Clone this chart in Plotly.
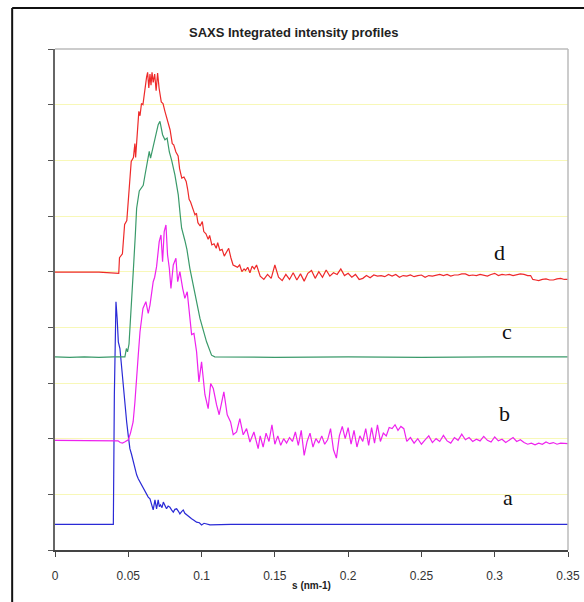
import plotly.graph_objects as go

# ---------------- data ----------------
s_a = [0.0, 0.010, 0.020, 0.030, 0.0398, 0.0405, 0.0416, 0.0424, 0.0432, 0.0443, 0.0455,
       0.0466, 0.0477, 0.0489, 0.0500, 0.0511, 0.0522, 0.0534, 0.0545, 0.0557, 0.0568,
       0.0580, 0.0591, 0.0602, 0.0614, 0.0625, 0.0636, 0.0648, 0.0659, 0.0670, 0.0682,
       0.0693, 0.0704, 0.0712, 0.0720, 0.0730, 0.0739, 0.0750, 0.0761, 0.0772, 0.0784,
       0.0795, 0.0807, 0.0818, 0.0830, 0.0841, 0.0852, 0.0864, 0.0875, 0.0886, 0.0898,
       0.0915, 0.0932, 0.0950, 0.0966, 0.0985, 0.1000, 0.1017, 0.1034, 0.1057, 0.120,
       0.150, 0.200, 0.250, 0.300, 0.350]
I_a = [0.46, 0.46, 0.46, 0.46, 0.46, 2.80, 4.46, 4.16, 3.74, 3.62, 3.26,
       2.95, 2.54, 2.30, 2.05, 1.82, 1.72, 1.58, 1.45, 1.35, 1.28,
       1.22, 1.15, 1.10, 1.06, 0.99, 0.95, 0.92, 0.80, 0.72, 0.90,
       0.74, 0.90, 0.78, 0.81, 0.76, 0.86, 0.80, 0.74, 0.79, 0.77,
       0.72, 0.68, 0.73, 0.74, 0.70, 0.65, 0.69, 0.72, 0.66, 0.63,
       0.60, 0.56, 0.53, 0.50, 0.49, 0.45, 0.48, 0.47, 0.45, 0.46,
       0.46, 0.46, 0.46, 0.46, 0.46]

s_b = [0.0, 0.010, 0.020, 0.030, 0.040, 0.0430, 0.0445, 0.0460, 0.0475, 0.0490, 0.0500,
       0.0515, 0.0533, 0.0545, 0.0557, 0.0568, 0.0580, 0.0600, 0.0620, 0.0636, 0.0648,
       0.0659, 0.0670, 0.0680, 0.0693, 0.0711, 0.0723, 0.0734, 0.0745, 0.0757, 0.0768,
       0.0780, 0.0791, 0.0807, 0.0825, 0.0837, 0.0852, 0.0871, 0.0886, 0.0902, 0.0916,
       0.0932, 0.0948, 0.0966, 0.0982, 0.1000, 0.1023, 0.1045, 0.1062, 0.1080, 0.1102,
       0.1120, 0.1152, 0.1175, 0.1198, 0.1216, 0.1239, 0.1261, 0.1284, 0.1307, 0.1330,
       0.1357, 0.1386,
       0.1400, 0.1420, 0.1440, 0.1460, 0.1480, 0.1500, 0.1520, 0.1540, 0.1560, 0.1580,
       0.1600, 0.1620, 0.1640, 0.1660, 0.1680, 0.1700, 0.1720, 0.1740, 0.1760, 0.1780,
       0.1800, 0.1820, 0.1840, 0.1860, 0.1880, 0.1900, 0.1920, 0.1940, 0.1960, 0.1980,
       0.2000, 0.2020, 0.2040, 0.2060, 0.2080, 0.2100, 0.2120, 0.2140, 0.2160, 0.2180,
       0.2200, 0.2220, 0.2240, 0.2260, 0.2280, 0.2300, 0.2320, 0.2340, 0.2360, 0.2380,
       0.2400, 0.2425, 0.2450, 0.2475, 0.2500, 0.2525, 0.2550, 0.2575, 0.2600, 0.2625,
       0.2650, 0.2675, 0.2700, 0.2725, 0.2750, 0.2775, 0.2800, 0.2825, 0.2850, 0.2875,
       0.2900, 0.2925, 0.2950, 0.2975, 0.3000, 0.3025, 0.3050, 0.3075, 0.3100, 0.3125,
       0.3150, 0.3175, 0.3200, 0.3225, 0.3250, 0.3275, 0.3300, 0.3325, 0.3350, 0.3375,
       0.3400, 0.3425, 0.3450, 0.3500]
I_b = [1.97, 1.97, 1.97, 1.97, 1.97, 1.96, 1.93, 1.92, 1.94, 1.96, 1.98,
       2.10, 2.30, 2.65, 3.02, 3.50, 3.92, 4.34, 4.46, 4.25, 4.40,
       4.64, 4.82, 4.90, 5.09, 5.54, 5.66, 5.18, 5.72, 5.84, 5.30,
       5.06, 4.70, 5.12, 5.24, 4.82, 5.00, 4.70, 4.52, 4.64, 4.23,
       3.87, 3.89, 3.56, 3.02, 3.38, 2.79, 2.54, 2.99, 2.90, 2.61,
       2.43, 2.84, 2.43, 2.30, 2.07, 2.12, 2.36, 2.07, 2.18, 1.94,
       2.12, 1.82,
       2.05, 1.85, 2.10, 1.95, 2.25, 1.90, 2.05, 1.88, 2.00, 1.92,
       2.02, 1.95, 2.12, 1.88, 2.15, 1.70, 1.95, 2.10, 1.85, 2.00,
       1.92, 2.05, 1.90, 1.98, 2.18, 1.80, 1.65, 2.05, 2.22, 2.00,
       2.20, 1.90, 2.15, 1.85, 2.05, 1.95, 2.18, 1.88, 2.20, 1.92,
       2.25, 1.95, 2.10, 2.05, 2.20, 2.18, 2.25, 2.15, 2.22, 2.18,
       1.95, 2.02, 1.92, 2.00, 1.90, 1.98, 2.05, 1.93, 2.00, 1.95,
       2.06, 1.96, 1.92, 2.02, 1.97, 2.08, 1.98, 2.02, 1.95, 1.99,
       1.96, 2.04, 1.97, 1.94, 2.03, 1.96, 1.99, 1.93, 1.97, 2.02,
       1.95, 1.98, 1.93, 1.90, 1.92, 1.89, 1.92, 1.90, 1.94, 1.91,
       1.93, 1.90, 1.92, 1.91]

s_c = [0.0, 0.010, 0.020, 0.030, 0.040, 0.0477, 0.0487, 0.0495, 0.0505, 0.0515, 0.0523,
       0.0535, 0.0548, 0.0557, 0.0575, 0.0591, 0.0602, 0.0615, 0.0625, 0.0643, 0.0652,
       0.0666, 0.0682, 0.0704, 0.0716, 0.0734, 0.0750, 0.0765, 0.0780, 0.0796, 0.0818,
       0.0841, 0.0855, 0.0864, 0.0886, 0.0900, 0.0920, 0.0955, 0.0989, 0.1034, 0.1068,
       0.1090, 0.150, 0.200, 0.250, 0.300, 0.350]
I_c = [3.47, 3.46, 3.47, 3.46, 3.47, 3.47, 3.62, 3.56, 3.70, 4.10, 4.46,
       5.05, 5.66, 6.14, 6.45, 6.50, 6.55, 6.75, 6.90, 7.16, 7.04,
       7.22, 7.40, 7.64, 7.70, 7.46, 7.37, 7.40, 7.15, 7.00, 6.74,
       6.38, 6.00, 5.78, 5.56, 5.40, 5.06, 4.58, 4.16, 3.74, 3.50,
       3.47, 3.46, 3.47, 3.46, 3.47, 3.47]

s_d = [0.0, 0.010, 0.020, 0.030, 0.0435, 0.0440, 0.0460, 0.0475, 0.0490, 0.0505, 0.0520,
       0.0535, 0.0545, 0.0550, 0.0560, 0.0572, 0.0580, 0.0590, 0.0600, 0.0612, 0.0625,
       0.0632, 0.0640, 0.0648, 0.0655, 0.0662, 0.0670, 0.0680, 0.0690, 0.0700, 0.0710,
       0.0725, 0.0737, 0.0750, 0.0765, 0.0775, 0.0785, 0.0800, 0.0810, 0.0825, 0.0840,
       0.0850, 0.0865, 0.0880, 0.0895, 0.0905, 0.0915, 0.0925, 0.0940, 0.0955, 0.0965,
       0.0975, 0.0990, 0.1005, 0.1015, 0.1030, 0.1045, 0.1055, 0.1070, 0.1085, 0.1100,
       0.1110, 0.1125, 0.1140, 0.1155, 0.1170, 0.1185, 0.1200, 0.1215, 0.1230, 0.1245,
       0.1260, 0.1275, 0.1290, 0.1300, 0.1315, 0.1330, 0.1345, 0.1360, 0.1375, 0.1390,
       0.1400, 0.1425, 0.1450, 0.1475, 0.1500, 0.1525, 0.1550, 0.1575, 0.1600, 0.1625,
       0.1650, 0.1675, 0.1700, 0.1725, 0.1750, 0.1775, 0.1800, 0.1825, 0.1850, 0.1875,
       0.1900, 0.1925, 0.1950, 0.1975, 0.2000, 0.2025, 0.2050, 0.2075, 0.2100, 0.2125,
       0.2150, 0.2175, 0.2200, 0.2225, 0.2250, 0.2275, 0.2300, 0.2325, 0.2350, 0.2375,
       0.2400, 0.2425, 0.2450, 0.2475, 0.2500, 0.2525, 0.2550, 0.2575, 0.2600, 0.2625,
       0.2650, 0.2675, 0.2700, 0.2725, 0.2750, 0.2775, 0.2800, 0.2825, 0.2850, 0.2875,
       0.2900, 0.2925, 0.2950, 0.2975, 0.3000, 0.3025, 0.3050, 0.3075, 0.3100, 0.3125,
       0.3150, 0.3175, 0.3200, 0.3225, 0.3245, 0.3260, 0.3280, 0.3300, 0.3325, 0.3350,
       0.3375, 0.3400, 0.3425, 0.3450, 0.3475, 0.3500]
I_d = [4.99, 4.99, 4.98, 4.99, 4.97, 5.25, 5.32, 5.85, 5.92, 6.55, 6.98,
       7.05, 7.30, 7.05, 7.40, 7.88, 7.80, 8.02, 8.00, 8.30, 8.50,
       8.58, 8.30, 8.55, 8.35, 8.58, 8.40, 8.55, 8.25, 8.57, 8.30,
       8.05, 8.02, 7.88, 7.75, 7.62, 7.55, 7.30, 7.28, 7.15, 7.08,
       6.85, 6.68, 6.70, 6.62, 6.48, 6.30, 6.25, 6.15, 6.02, 6.05,
       5.88, 5.82, 5.90, 5.72, 5.68, 5.58, 5.65, 5.48, 5.50, 5.42,
       5.52, 5.38, 5.40, 5.28, 5.35, 5.42, 5.25, 5.12, 5.10, 5.08,
       5.12, 5.00, 5.05, 5.02, 5.08, 4.98, 5.10, 5.05, 5.12, 5.00,
       4.92, 4.86, 4.95, 4.88, 5.12, 4.90, 4.84, 4.95, 4.86, 4.98,
       4.85, 4.96, 4.83, 4.97, 5.02, 4.88, 5.00, 4.90, 5.03, 4.92,
       4.98, 4.95, 5.05, 4.93, 4.97, 4.90, 4.95, 4.86, 4.88, 4.93,
       4.89, 4.94, 4.92, 4.93, 4.91, 4.95, 4.92, 4.95, 4.90, 4.93,
       4.92, 4.94, 4.91, 4.93, 4.94, 4.90, 4.93, 4.92, 4.93, 4.95,
       4.93, 4.95, 4.92, 4.94, 4.94, 4.96, 4.96, 4.93, 4.94, 4.93,
       4.95, 4.94, 4.92, 4.95, 4.97, 4.93, 4.95, 4.94, 4.95, 4.93,
       4.94, 4.96, 4.95, 4.93, 4.93, 4.86, 4.85, 4.84, 4.86, 4.87,
       4.85, 4.85, 4.87, 4.88, 4.86, 4.86]

label_text = ["a", "b", "c", "d"]
label_s = [0.309, 0.307, 0.3085, 0.3035]
label_I = [0.95, 2.45, 3.92, 5.35]

x_ticks = [0, 0.05, 0.1, 0.15, 0.2, 0.25, 0.3, 0.35]
x_tick_text = ["0", "0.05", "0.1", "0.15", "0.2", "0.25", "0.3", "0.35"]

# ---------------- figure ----------------
fig = go.Figure()
series = [(s_a, I_a, "#2a2ad6"), (s_b, I_b, "#ee22ee"), (s_c, I_c, "#3a9a6a"), (s_d, I_d, "#ee2a2a")]
for sx, sy, col in series:
    fig.add_trace(go.Scatter(x=sx, y=sy, mode="lines", line=dict(color=col, width=1.2),
                             showlegend=False, hoverinfo="skip"))

for t, lx, ly in zip(label_text, label_s, label_I):
    fig.add_annotation(x=lx, y=ly, text=t, showarrow=False,
                       font=dict(family="Liberation Serif", size=22, color="#111111"))

fig.add_annotation(x=0.466, y=1.032, xref="paper", yref="paper", yanchor="middle", xanchor="center",
                   text="<b>SAXS Integrated intensity profiles</b>",
                   showarrow=False, font=dict(family="Liberation Sans", size=13, color="#222222"))

# outer frame (left and top)
fig.add_shape(type="line", xref="paper", yref="paper", x0=-0.0835, x1=-0.0835, y0=-0.2, y1=1.082,
              line=dict(color="#111111", width=2))
fig.add_shape(type="line", xref="paper", yref="paper", x0=-0.0835, x1=1.05, y0=1.082, y1=1.082,
              line=dict(color="#111111", width=2))

fig.update_layout(
    width=584, height=602,
    margin=dict(l=55, r=16, t=49, b=52, autoexpand=False),
    paper_bgcolor="white", plot_bgcolor="white",
    xaxis=dict(range=[0, 0.35], tickvals=x_ticks, ticktext=x_tick_text, automargin=False,
               ticks="outside", ticklen=5, tickcolor="#444444",
               showline=True, linecolor="#444444", linewidth=1.5, mirror=False,
               showgrid=False, zeroline=False, ticklabelstandoff=9,
               tickfont=dict(family="Liberation Sans", size=12, color="#333333"),
               title=dict(text="<b>s (nm-1)</b>", standoff=0,
                          font=dict(family="Liberation Sans", size=10, color="#222222"))),
    yaxis=dict(range=[0, 9], dtick=1, tick0=0, ticks="outside", ticklen=5, tickcolor="#555555",
               automargin=False,
               showticklabels=False, showline=True, linecolor="#666666", linewidth=1.5,
               showgrid=True, gridcolor="#f8f8b8", gridwidth=1, zeroline=False),
)
# light plot-area border at top and right
fig.add_shape(type="line", xref="paper", yref="paper", x0=0, x1=1, y0=1, y1=1,
              line=dict(color="#bbbbbb", width=1.5))
fig.add_shape(type="line", xref="paper", yref="paper", x0=1, x1=1, y0=0, y1=1,
              line=dict(color="#bbbbbb", width=1.5))

fig.write_html("out.html", config={"displayModeBar": False},
               post_script="document.body.style.margin='0';document.body.style.overflow='hidden';")
